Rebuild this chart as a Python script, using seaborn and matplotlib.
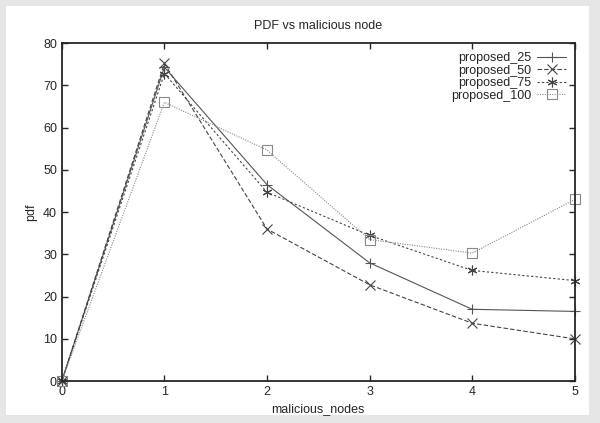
import numpy as np
import pandas as pd
import seaborn as sns
import matplotlib as mpl
import matplotlib.pyplot as plt
from matplotlib.patches import Rectangle

mpl.use("Agg")

malicious_nodes = [0, 1, 2, 3, 4, 5]
proposed_25 = [0, 74.3, 46.5, 28.0, 17.0, 16.5]
proposed_50 = [0, 75.2, 36.0, 22.8, 13.7, 10.0]
proposed_75 = [0, 72.8, 44.7, 34.5, 26.2, 23.8]
proposed_100 = [0, 66.0, 54.7, 33.5, 30.3, 43.0]

series = {
    "proposed_25": proposed_25,
    "proposed_50": proposed_50,
    "proposed_75": proposed_75,
    "proposed_100": proposed_100,
}

sns.set_style("ticks")
plt.rcParams["font.family"] = ["Liberation Sans", "DejaVu Sans"]

fig = plt.figure(figsize=(6.0, 4.23), dpi=100)
fig.patch.set_facecolor("#e6e6e6")
# white page inside the grey frame
fig.add_artist(Rectangle((0.010, 0.02), 0.972, 0.965, transform=fig.transFigure,
                         facecolor="white", edgecolor="none", zorder=-1))
ax = fig.add_axes([0.103, 0.099, 0.855, 0.799])
ax.set_facecolor("white")

colors = {"proposed_25": "#555555", "proposed_50": "#444444",
          "proposed_75": "#444444", "proposed_100": "#888888"}
styles = {"proposed_25": "-", "proposed_50": (0, (4, 2)),
          "proposed_75": (0, (2, 2)), "proposed_100": (0, (1, 1.2))}
asterisk = (6, 2, 0)
markers = {"proposed_25": "+", "proposed_50": "x",
           "proposed_75": asterisk, "proposed_100": "s"}

for name, vals in series.items():
    sns.lineplot(x=malicious_nodes, y=vals, ax=ax, label=name,
                 color=colors[name], linestyle=styles[name], linewidth=0.8,
                 marker=markers[name], markersize=7, markerfacecolor="none",
                 markeredgecolor=colors[name], markeredgewidth=0.8, clip_on=False)

ax.legend(loc="upper right", frameon=False, markerfirst=False,
          fontsize=9, handlelength=2.3, labelspacing=0.05, borderaxespad=0.3,
          handletextpad=0.5)

ax.set_xlim(0, 5)
ax.set_ylim(0, 80)
ax.set_xticks(malicious_nodes)
ax.set_yticks(np.arange(0, 81, 10))
ax.tick_params(direction="in", top=True, right=True, labelsize=9, length=4, width=1)
for s in ax.spines.values():
    s.set_linewidth(1.3)
    s.set_visible(True)
ax.set_xlabel("malicious_nodes", fontsize=9)
ax.set_ylabel("pdf", fontsize=9)
ax.set_title("PDF vs malicious node", fontsize=9, pad=10)

fig.savefig("out.png", dpi=100)
